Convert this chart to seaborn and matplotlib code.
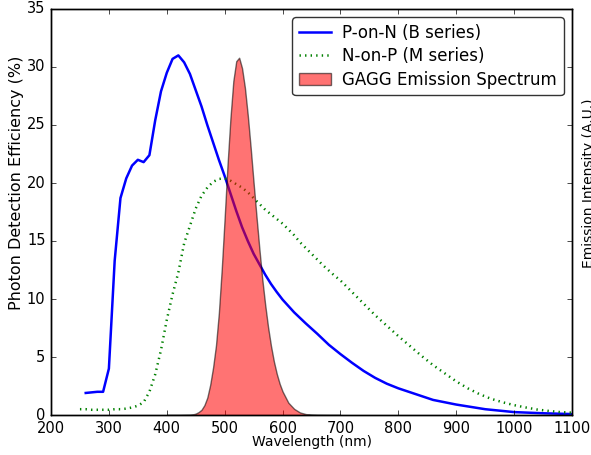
import matplotlib
matplotlib.use("Agg")
import matplotlib.pyplot as plt
import seaborn as sns
import pandas as pd

# P-on-N (B series) photon detection efficiency (%)
pon_wl = [260, 270, 280, 290, 300, 310, 320, 330, 340, 350, 360, 370, 380, 390,
          400, 410, 420, 430, 440, 450, 460, 470, 480, 490, 500, 510, 520, 530,
          540, 550, 560, 570, 580, 590, 600, 610, 620, 640, 660, 680, 700, 720, 740,
          760, 780, 800, 830, 860, 900, 950, 1000, 1050, 1100]
pon_pde = [1.9, 1.95, 2.0, 2.0, 4.0, 13.3, 18.7, 20.4, 21.5, 22.0, 21.8, 22.4, 25.4, 27.9,
           29.5, 30.7, 31.0, 30.4, 29.4, 28.0, 26.6, 25.0, 23.5, 22.0, 20.6, 19.1, 17.6, 16.2,
           15.0, 13.9, 13.0, 12.1, 11.3, 10.6, 9.95, 9.4, 8.85, 7.9, 7.0, 6.05, 5.25, 4.5, 3.8,
           3.2, 2.7, 2.3, 1.8, 1.3, 0.9, 0.5, 0.25, 0.15, 0.08]

# N-on-P (M series) photon detection efficiency (%)
nop_wl = [250, 260, 270, 280, 290, 300, 310, 320, 330, 340, 350, 360, 370, 380,
          390, 400, 410, 420, 430, 440, 450, 460, 470, 480, 490, 500, 510, 520,
          530, 540, 550, 560, 570, 580, 590, 600, 610, 620, 630, 640, 650, 660,
          670, 680, 690, 700, 720, 740, 760, 780, 800, 820, 840, 860, 880, 900,
          920, 940, 960, 980, 1000, 1020, 1040, 1060, 1080, 1100]
nop_pde = [0.5, 0.5, 0.45, 0.45, 0.45, 0.45, 0.5, 0.5, 0.55, 0.65, 0.8, 1.1, 2.0, 3.5,
           5.6, 8.2, 10.4, 12.3, 14.8, 16.3, 17.8, 18.9, 19.6, 20.1, 20.35, 20.4, 20.2, 19.9,
           19.6, 19.2, 18.7, 18.2, 17.7, 17.3, 16.9, 16.5, 16.0, 15.5, 14.9, 14.4, 13.9, 13.4,
           12.9, 12.45, 12.0, 11.6, 10.6, 9.6, 8.6, 7.7, 6.8, 5.95, 5.1, 4.3, 3.6, 2.9,
           2.3, 1.8, 1.4, 1.1, 0.85, 0.65, 0.47, 0.35, 0.25, 0.2]

# GAGG emission spectrum (arbitrary units, drawn on the right axis)
gagg_wl = [400, 420, 440, 445, 450, 455, 460, 465, 470, 475, 480, 485, 490, 495,
           500, 505, 510, 515, 520, 525, 530, 535, 540, 545, 550, 555, 560, 565,
           570, 575, 580, 585, 590, 595, 600, 610, 620, 630, 640, 650, 660, 680, 700]
gagg_int = [0.0, 0.0, 0.02, 0.05, 0.12, 0.25, 0.45, 0.85, 1.5, 2.6, 4.1, 6.0, 8.8, 12.6,
            17.0, 21.6, 25.6, 28.8, 30.5, 30.8, 29.9, 28.2, 25.8, 23.0, 20.0, 17.1, 14.3, 11.7,
            9.5, 7.57, 5.96, 4.62, 3.55, 2.69, 2.03, 1.06, 0.53, 0.22, 0.08, 0.03, 0.01, 0.0, 0.0]

labels = ["P-on-N (B series)", "N-on-P (M series)", "GAGG Emission Spectrum"]
x_label = "Wavelength (nm)"
y_label = "Photon Detection Efficiency (%)"
y2_label = "Emission Intensity (A.U.)"

plt.style.use("classic")
plt.rcParams["font.family"] = ["DejaVu Sans"]
plt.rcParams["xtick.major.size"] = 3.6
plt.rcParams["ytick.major.size"] = 3.6
plt.rcParams["xtick.minor.size"] = 0
plt.rcParams["ytick.minor.size"] = 0

fig = plt.figure(figsize=(5.91, 4.55), dpi=100, facecolor="white")
ax = fig.add_axes([51 / 591, 40 / 455, 521 / 591, 406 / 455])
ax.set_facecolor("white")

df_pon = pd.DataFrame({"wl": pon_wl, "pde": pon_pde})
df_nop = pd.DataFrame({"wl": nop_wl, "pde": nop_pde})
sns.lineplot(data=df_pon, x="wl", y="pde", ax=ax, color="#0000ff", linewidth=1.8,
             label=labels[0])
sns.lineplot(data=df_nop, x="wl", y="pde", ax=ax, color="#008000", linewidth=1.8,
             linestyle=":", label=labels[1])

ax.set_xlim(200, 1100)
ax.set_ylim(0, 35)
ax.set_xticks(range(200, 1101, 100))
ax.set_yticks(range(0, 36, 5))
ax.tick_params(labelsize=10.5, direction="in")
ax.set_xlabel(x_label, fontsize=10)
ax.xaxis.set_label_coords(0.5, -0.05)
ax.set_ylabel(y_label, fontsize=11.5)
ax.yaxis.set_label_coords(-0.052, 0.571)

ax2 = ax.twinx()
ax2.fill_between(gagg_wl, gagg_int, facecolor="red", edgecolor="black",
                 alpha=0.55, linewidth=1.0, label=labels[2])
ax2.set_ylim(0, 35)
ax2.set_yticks(range(0, 36, 5))
ax2.set_yticklabels([])
ax2.tick_params(direction="in")
ax2.set_ylabel(y2_label, fontsize=10)
ax2.yaxis.set_label_coords(1.02, 0.571)

if ax.get_legend() is not None:
    ax.get_legend().remove()
h1, l1 = ax.get_legend_handles_labels()
h2, l2 = ax2.get_legend_handles_labels()
leg = ax2.legend(h1 + h2, l1 + l2, loc="upper right", fontsize=12, fancybox=True,
                 handlelength=1.9, handletextpad=0.7, borderaxespad=0.5,
                 labelspacing=0.32, numpoints=1)
leg.get_frame().set_edgecolor("0.2")

fig.savefig("out.png", dpi=100, facecolor="white")
